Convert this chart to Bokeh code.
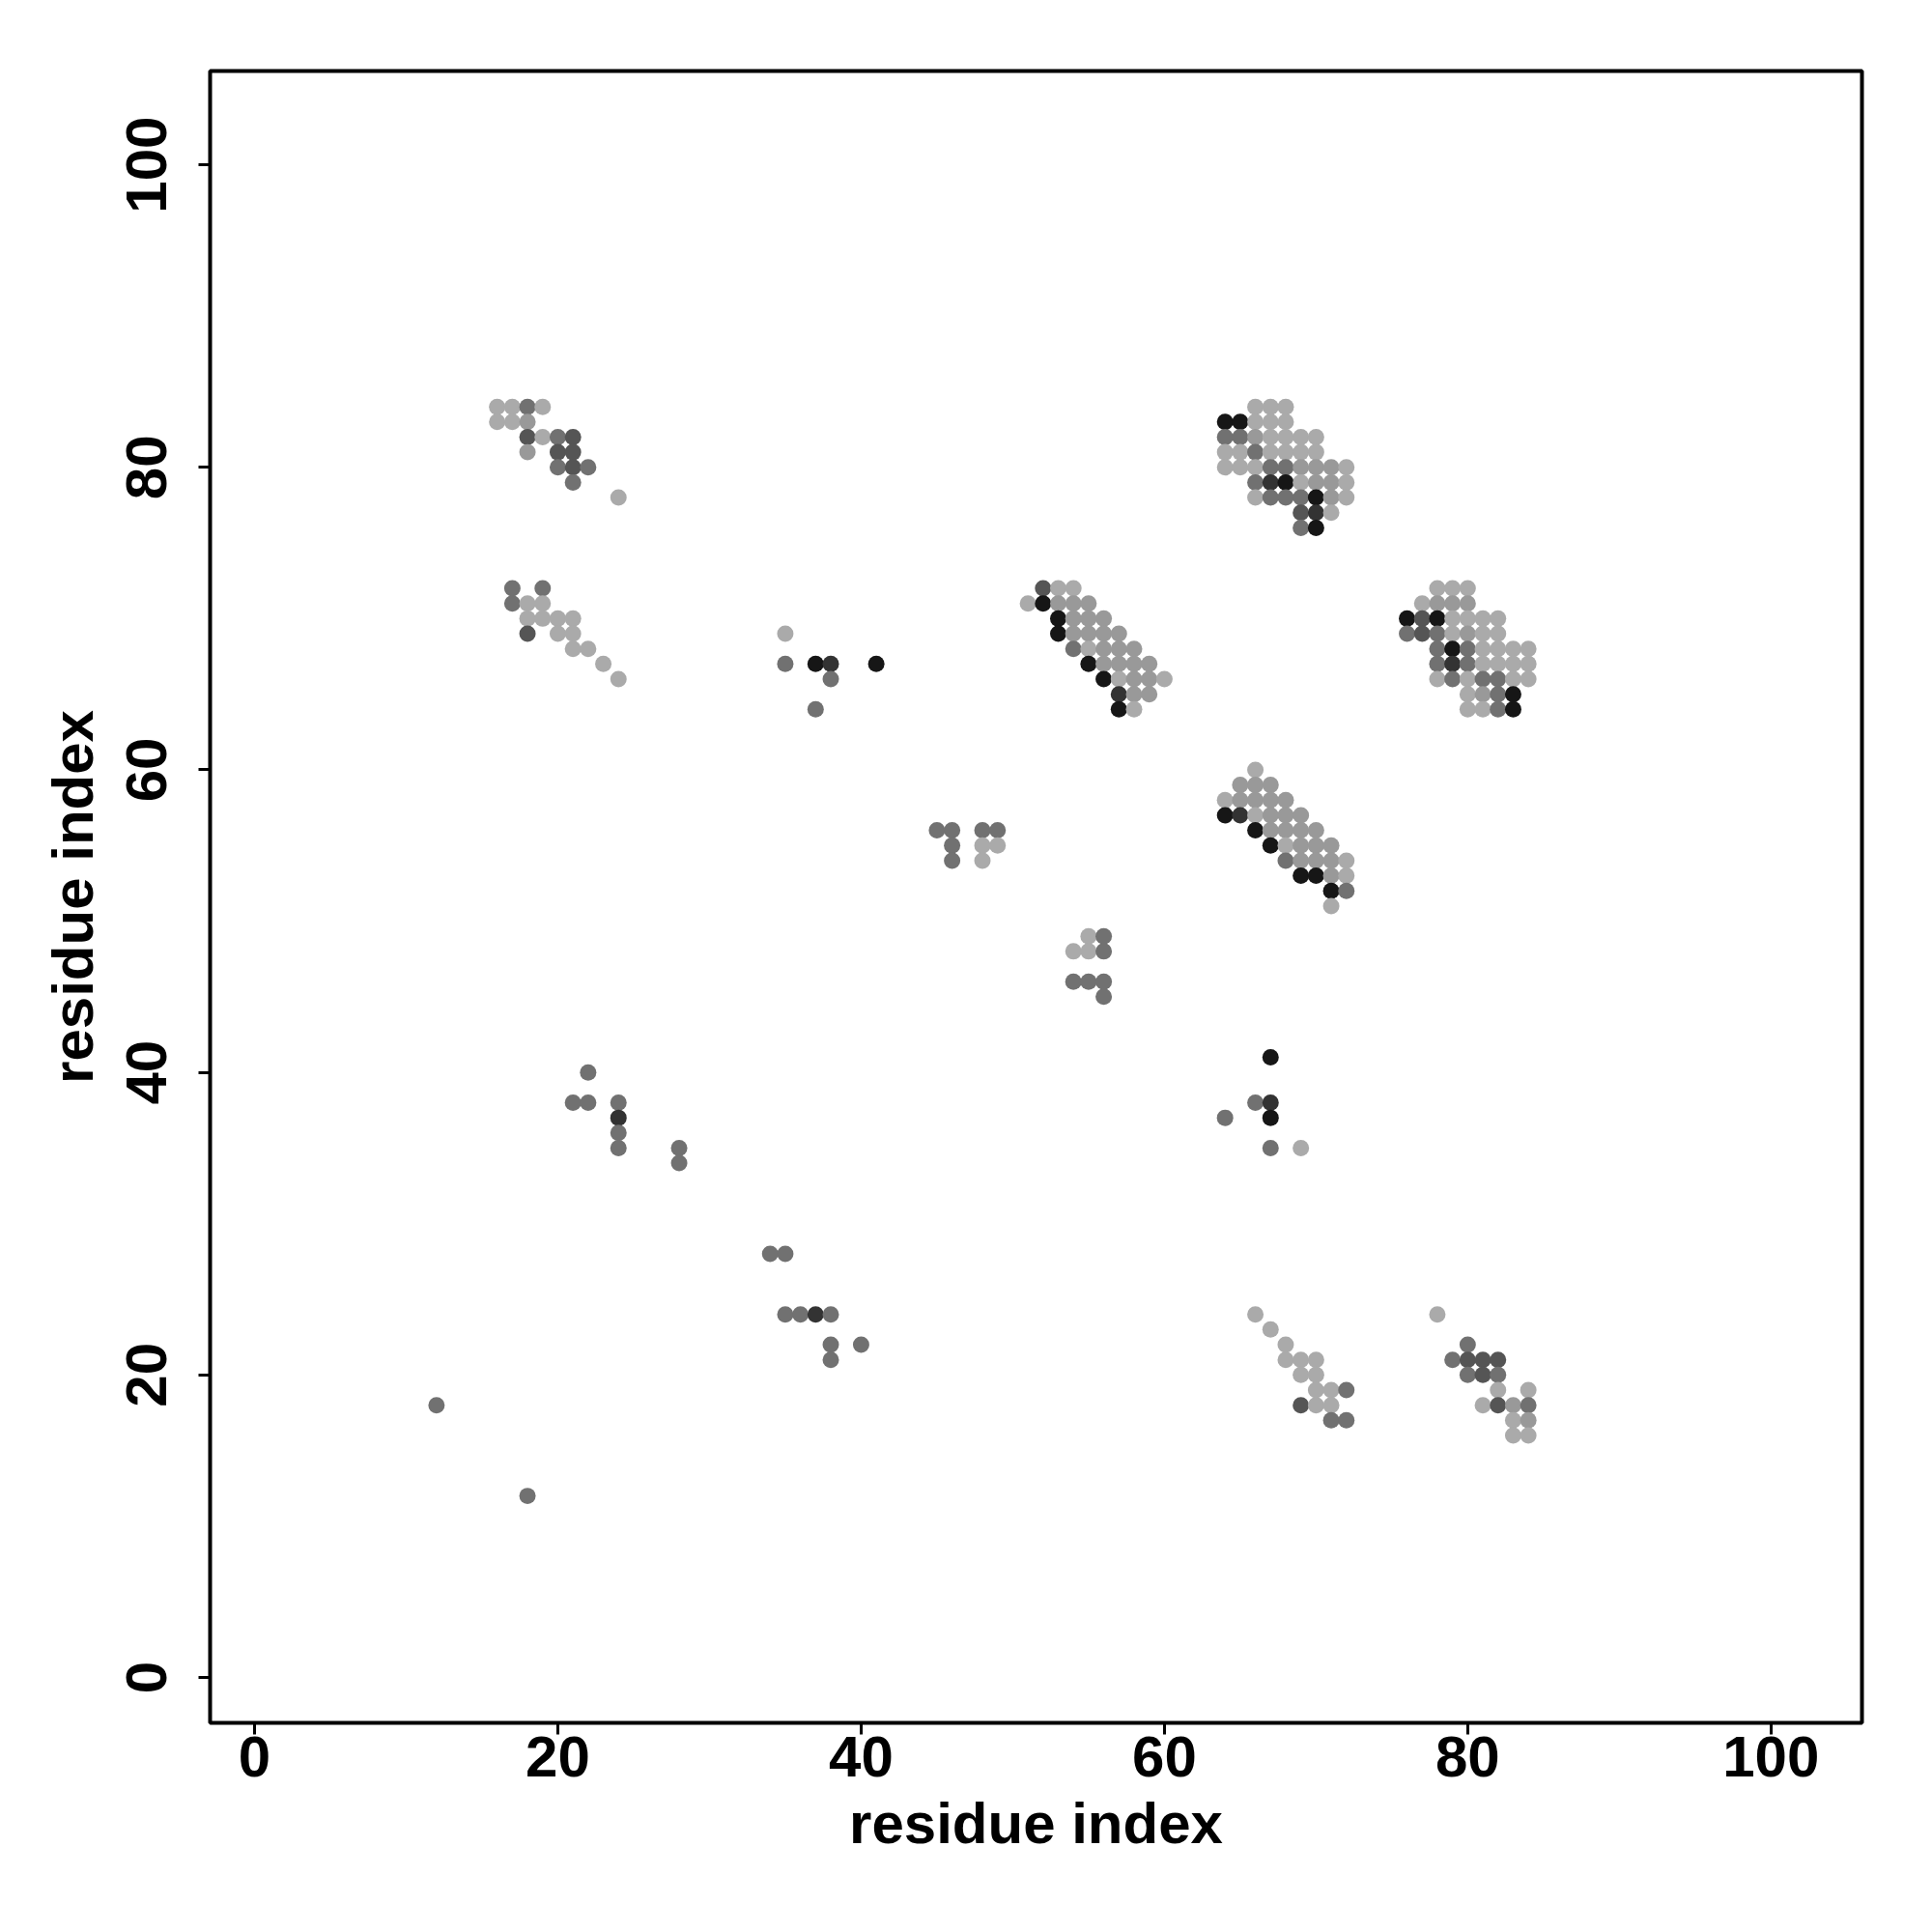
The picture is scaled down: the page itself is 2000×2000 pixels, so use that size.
from bokeh.plotting import figure
from bokeh.models import Range1d, FixedTicker, ColumnDataSource
from bokeh.embed import file_html
from bokeh.resources import INLINE

# contact map: residue i, residue j, shade level (1 = light ... 6 = black)
res_i = [16, 17, 18, 19, 16, 17, 18, 18, 19, 20, 21, 18, 20, 21, 20, 21, 22, 21, 24,
         17, 19, 17, 18, 19, 18, 19, 20, 21, 18, 20, 21, 21, 22, 23, 24,
         35, 35, 37, 38, 38, 41, 37,
         52, 53, 54, 51, 52, 53, 54, 55, 53, 54, 55, 56, 53, 54, 55, 56, 57,
         54, 55, 56, 57, 58, 55, 56, 57, 58, 59, 56, 57, 58, 59, 60, 57, 58, 59, 57, 58,
         66, 67, 68, 64, 65, 66, 67, 68, 64, 65, 66, 67, 68, 69, 70,
         64, 65, 66, 67, 68, 69, 70, 64, 65, 66, 67, 68, 69, 70, 71, 72,
         66, 67, 68, 69, 70, 71, 72, 66, 67, 68, 69, 70, 71, 72, 69, 70, 71, 69, 70,
         78, 79, 80, 77, 78, 79, 80, 76, 77, 78, 79, 80, 81, 82, 76, 77, 78, 79, 80, 81, 82,
         78, 79, 80, 81, 82, 83, 84, 78, 79, 80, 81, 82, 83, 84, 78, 79, 80, 81, 82, 83, 84,
         80, 81, 82, 83, 80, 81, 82, 83,
         66, 65, 66, 67, 64, 65, 66, 67, 68, 64, 65, 66, 67, 68, 69, 66, 67, 68, 69, 70,
         67, 68, 69, 70, 71, 68, 69, 70, 71, 72, 69, 70, 71, 72, 71, 72, 71,
         45, 46, 46, 46, 48, 49, 48, 49, 48,
         55, 56, 54, 55, 56, 54, 55, 56, 56,
         22, 21, 22, 24, 24, 24, 24, 28, 28,
         67, 66, 67, 67, 64, 67, 69,
         34, 35, 35, 36, 37, 38, 38, 38, 40,
         66, 67, 68, 68, 69, 70, 69, 70, 70, 71, 72, 69, 70, 71, 71, 72,
         78, 80, 79, 80, 81, 82, 80, 81, 82, 82, 84, 81, 82, 83, 84, 83, 84, 83, 84,
         12, 18]
res_j = [84, 84, 84, 84, 83, 83, 83, 82, 82, 82, 82, 81, 81, 81, 80, 80, 80, 79, 78,
         72, 72, 71, 71, 71, 70, 70, 70, 70, 69, 69, 69, 68, 68, 67, 66,
         69, 67, 67, 67, 66, 67, 64,
         72, 72, 72, 71, 71, 71, 71, 71, 70, 70, 70, 70, 69, 69, 69, 69, 69,
         68, 68, 68, 68, 68, 67, 67, 67, 67, 67, 66, 66, 66, 66, 66, 65, 65, 65, 64, 64,
         84, 84, 84, 83, 83, 83, 83, 83, 82, 82, 82, 82, 82, 82, 82,
         81, 81, 81, 81, 81, 81, 81, 80, 80, 80, 80, 80, 80, 80, 80, 80,
         79, 79, 79, 79, 79, 79, 79, 78, 78, 78, 78, 78, 78, 78, 77, 77, 77, 76, 76,
         72, 72, 72, 71, 71, 71, 71, 70, 70, 70, 70, 70, 70, 70, 69, 69, 69, 69, 69, 69, 69,
         68, 68, 68, 68, 68, 68, 68, 67, 67, 67, 67, 67, 67, 67, 66, 66, 66, 66, 66, 66, 66,
         65, 65, 65, 65, 64, 64, 64, 64,
         60, 59, 59, 59, 58, 58, 58, 58, 58, 57, 57, 57, 57, 57, 57, 56, 56, 56, 56, 56,
         55, 55, 55, 55, 55, 54, 54, 54, 54, 54, 53, 53, 53, 53, 52, 52, 51,
         56, 56, 55, 54, 56, 56, 55, 55, 54,
         49, 49, 48, 48, 48, 46, 46, 46, 45,
         40, 38, 38, 38, 37, 36, 35, 35, 34,
         41, 38, 38, 37, 37, 35, 35,
         28, 28, 24, 24, 24, 24, 22, 21, 22,
         24, 23, 22, 21, 21, 21, 20, 20, 19, 19, 19, 18, 18, 18, 17, 17,
         24, 22, 21, 21, 21, 21, 20, 20, 20, 19, 19, 18, 18, 18, 18, 17, 17, 16, 16,
         18, 12]
level = [1, 1, 3, 1, 1, 1, 2, 4, 1, 3, 4, 2, 4, 4, 3, 4, 3, 3, 1,
         3, 3, 3, 1, 1, 1, 1, 1, 1, 4, 1, 1, 1, 1, 1, 1,
         1, 3, 6, 5, 3, 6, 3,
         4, 1, 1, 1, 6, 2, 2, 2, 6, 2, 2, 2, 6, 2, 2, 2, 2,
         3, 1, 2, 2, 2, 6, 2, 2, 2, 2, 6, 1, 2, 2, 1, 5, 2, 2, 6, 1,
         1, 1, 1, 6, 6, 1, 1, 1, 3, 3, 2, 1, 1, 1, 1,
         1, 1, 3, 1, 1, 1, 1, 1, 1, 1, 3, 3, 2, 2, 2, 1,
         3, 5, 6, 1, 2, 2, 1, 1, 3, 3, 3, 6, 2, 1, 4, 5, 1, 3, 6,
         1, 1, 1, 1, 2, 2, 2, 6, 4, 6, 1, 1, 1, 1, 3, 4, 3, 1, 2, 1, 1,
         3, 6, 3, 1, 1, 1, 1, 3, 5, 3, 1, 1, 1, 1, 1, 3, 1, 3, 3, 1, 1,
         1, 2, 3, 6, 1, 1, 3, 6,
         1, 2, 2, 2, 1, 2, 2, 2, 2, 6, 5, 1, 2, 2, 2, 6, 2, 2, 2, 2,
         6, 1, 2, 2, 2, 3, 2, 2, 2, 1, 6, 6, 2, 1, 6, 3, 1,
         3, 3, 3, 3, 3, 3, 1, 1, 1,
         1, 3, 1, 1, 3, 3, 3, 3, 3,
         3, 3, 3, 3, 5, 3, 3, 3, 3,
         6, 3, 5, 6, 3, 3, 1,
         3, 3, 3, 3, 5, 3, 3, 3, 3,
         1, 1, 1, 1, 1, 1, 1, 1, 1, 1, 3, 4, 1, 1, 3, 3,
         1, 3, 3, 4, 4, 4, 3, 4, 3, 1, 1, 1, 4, 2, 3, 1, 2, 1, 1,
         3, 3]

x_ticks = [0, 20, 40, 60, 80, 100]
y_ticks = [0, 20, 40, 60, 80, 100]
axis_title = "residue index"

grey = {1: "#aaaaaa", 2: "#999999", 3: "#717171", 4: "#555555", 5: "#333333", 6: "#161616"}

src = ColumnDataSource(dict(x=res_i, y=res_j, c=[grey[v] for v in level]))

p = figure(width=1992, height=1992,
           x_range=Range1d(-2.93, 106.0), y_range=Range1d(-3.0, 106.2),
           output_backend="svg", toolbar_location=None,
           min_border_left=217, min_border_right=65,
           min_border_top=73, min_border_bottom=209)

p.scatter("x", "y", source=src, size=17, fill_color="c", line_color=None)

p.xgrid.visible = False
p.ygrid.visible = False
p.outline_line_color = "black"
p.outline_line_width = 4
p.background_fill_color = "white"
p.border_fill_color = "white"

for ax, ticks in ((p.xaxis[0], x_ticks), (p.yaxis[0], y_ticks)):
    ax.ticker = FixedTicker(ticks=ticks)
    ax.axis_line_color = None
    ax.major_tick_line_color = "black"
    ax.major_tick_line_width = 3
    ax.major_tick_in = 0
    ax.major_tick_out = 12
    ax.minor_tick_line_color = None
    ax.major_label_text_font = "Liberation Sans"
    ax.major_label_text_font_style = "bold"
    ax.major_label_text_font_size = "60px"
    ax.major_label_text_color = "black"
    ax.axis_label = axis_title
    ax.axis_label_text_font = "Liberation Sans"
    ax.axis_label_text_font_style = "bold"
    ax.axis_label_text_font_size = "60px"
    ax.axis_label_text_color = "black"

p.xaxis[0].major_label_standoff = 2
p.xaxis[0].axis_label_standoff = 12
p.yaxis[0].major_label_orientation = "vertical"
p.yaxis[0].major_label_standoff = 33
p.yaxis[0].axis_label_standoff = 20

open("out.html", "w").write(file_html(p, INLINE))
